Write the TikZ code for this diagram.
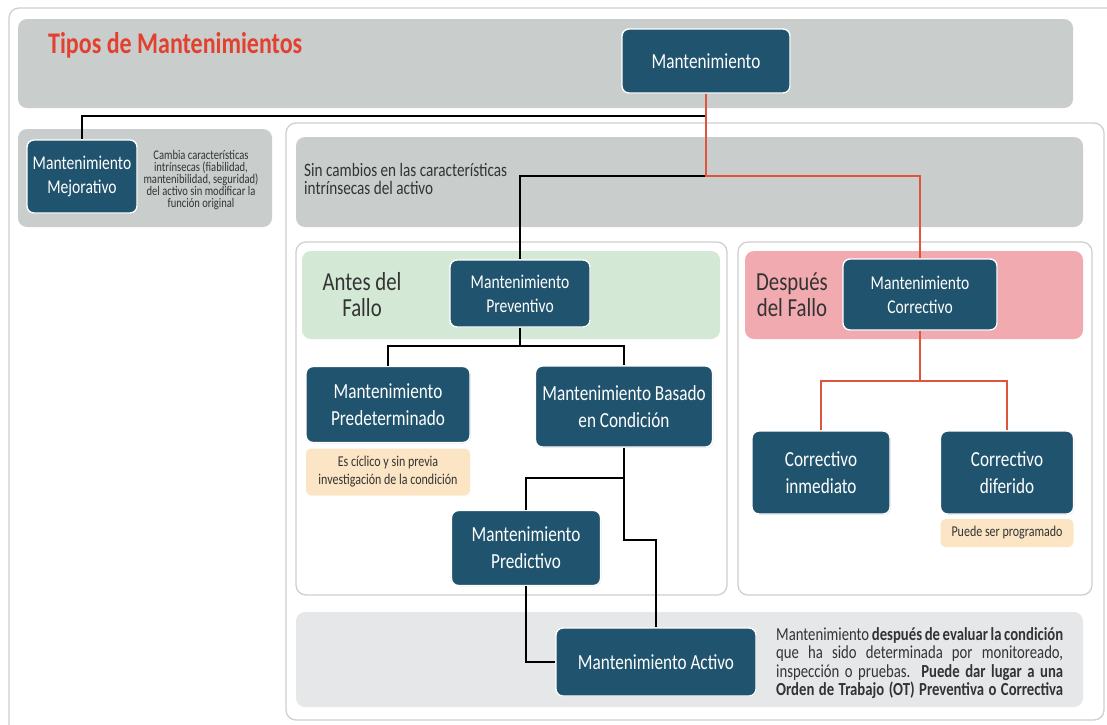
\documentclass[tikz,border=0pt]{standalone}
\usepackage{fontspec}
\setmainfont{Carlito}[FakeStretch=0.8]
\usetikzlibrary{shadows}
\definecolor{bandgray}{HTML}{C9CECD}
\definecolor{lightband}{HTML}{E6E7E8}
\definecolor{framegray}{HTML}{CFCFCF}
\definecolor{nodeblue}{HTML}{20536E}
\definecolor{linered}{HTML}{E0533D}
\definecolor{titlered}{HTML}{E2412F}
\definecolor{greenband}{HTML}{D3E9D5}
\definecolor{pinkband}{HTML}{F1AAB0}
\definecolor{notefill}{HTML}{FBE5C4}
\definecolor{textgray}{HTML}{333333}
\newcommand\boxfont{\fontsize{21.5}{27}\selectfont}
\newcommand\smallboxfont{\fontsize{19.5}{24}\selectfont}

\tikzset{
  band/.style={fill=#1, rounded corners=9pt},
  band/.default=bandgray,
  frame/.style={draw=framegray, line width=1.3pt, fill=white, rounded corners=10pt},
  mbox/.style={fill=nodeblue, draw=white, line width=1.4pt, rounded corners=7pt,
    text=white, align=center, inner sep=2pt, font=\boxfont,
    drop shadow={opacity=0.25, shadow xshift=0.8pt, shadow yshift=-0.8pt}},
  note/.style={fill=notefill, rounded corners=5pt, text=textgray, align=center,
    inner sep=2pt, font=\fontsize{15}{18}\selectfont},
  label/.style={text=textgray, inner sep=0},
  blk/.style={draw=black, line width=2pt},
  redl/.style={draw=linered, line width=1.6pt},
}

\begin{document}
\begin{tikzpicture}[x=1pt,y=-1pt]
\useasboundingbox (0,0) rectangle (1107,724);
\clip (0,0) rectangle (1107,724);
\fill[white] (0,0) rectangle (1107,724);

% frames and background bands
\draw[frame] (9,8) rectangle (1125,745);
\fill[band] (18,19) rectangle (1073,108);
\fill[band] (18,129) rectangle (272,227);
\draw[frame] (286,123) rectangle (1104,720);
\fill[band] (296,137) rectangle (1083,227);
\draw[frame] (296,242) rectangle (727,595);
\fill[band=greenband] (302,251) rectangle (720,339);
\draw[frame] (738,242) rectangle (1092,595);
\fill[band=pinkband] (745,251) rectangle (1083,339);
\fill[band=lightband] (296,612) rectangle (1083,707);

% headings and side texts
\node[anchor=base west, text=titlered, inner sep=0,
      font=\bfseries\fontsize{30}{32}\selectfont] (title) at (48,53) {Tipos de Mantenimientos};
\node[label, align=center, font=\fontsize{13.2}{11.8}\selectfont] (mejtxt) at (201,180)
  {Cambia características\\ intrínsecas (fiabilidad,\\ mantenibilidad, seguridad)\\ del activo sin modificar la\\ función original};
\node[label, anchor=north west, align=left, font=\fontsize{19}{18}\selectfont] (sintxt) at (304,163)
  {Sin cambios en las características\\ intrínsecas del activo};
\node[label, align=center, font=\fontsize{26}{26}\selectfont] (antes) at (362,295) {Antes del\\ Fallo};
\node[label, align=center, font=\fontsize{26}{26}\selectfont] (despues) at (792,295) {Después\\ del Fallo};

% boxes
\node[mbox, minimum width=168pt, minimum height=64pt] (mant) at (706,61) {Mantenimiento};
\node[mbox, minimum width=110pt, minimum height=73pt, font=\smallboxfont] (mej) at (82,176.5) {Mantenimiento\\ Mejorativo};
\node[mbox, minimum width=140pt, minimum height=67pt, font=\smallboxfont] (prev) at (520,293.5) {Mantenimiento\\ Preventivo};
\node[mbox, minimum width=154pt, minimum height=71pt, font=\smallboxfont] (corr) at (920,294.5) {Mantenimiento\\ Correctivo};
\node[mbox, minimum width=164pt, minimum height=76pt] (pred) at (388,404.5) {Mantenimiento\\ Predeterminado};
\node[mbox, minimum width=177pt, minimum height=81pt] (bas) at (624,406.5) {Mantenimiento Basado\\ en Condición};
\node[mbox, minimum width=149pt, minimum height=75pt] (pdic) at (526,548) {Mantenimiento\\ Predictivo};
\node[mbox, minimum width=138pt, minimum height=83pt] (cinm) at (821,472.5) {Correctivo\\ inmediato};
\node[mbox, minimum width=133pt, minimum height=83pt] (cdif) at (1007,472.5) {Correctivo\\ diferido};
\node[mbox, minimum width=200pt, minimum height=68pt] (act) at (656,662) {Mantenimiento Activo};

% notes
\node[note, minimum width=164pt, minimum height=47pt] (prednote) at (388,472)
  {Es cíclico y sin previa\\ investigación de la condición};
\node[note, minimum width=133pt, minimum height=28pt] (difnote) at (1007,533) {Puede ser programado};
\node[label, anchor=west, align=left, font=\fontsize{18.4}{18.3}\selectfont] (acttxt) at (776,663)
  {\makebox[287pt][s]{Mantenimiento \textbf{después de evaluar la condición}}\\
   \makebox[287pt][s]{que ha sido determinada por monitoreado,}\\
   \makebox[287pt][s]{inspección o pruebas. \textbf{Puede dar lugar a una}}\\
   \makebox[287pt][s]{\textbf{Orden de Trabajo (OT) Preventiva o Correctiva}}};

% connectors
\coordinate (j1) at (706,116);
\coordinate (j2) at (706,176);
\draw[blk] (j1) -| (mej.north);
\draw[blk] (j2) -| (prev.north);
\draw[redl] (mant.south) -- (j2) -| (corr.north);

\coordinate (j3) at (520,346);
\draw[blk] (prev.south) -- (j3);
\draw[blk] (j3) -| (pred.north);
\draw[blk] (j3) -| (bas.north);

\coordinate (j4) at (624,478);
\coordinate (j5) at (624,540);
\draw[blk] (bas.south) -- (j4) -| (pdic.north);
\draw[blk] (j4) -- (j5) -| (act.north);
\draw[blk] (pdic.south) |- (act.west);

\coordinate (j6) at (920,381);
\draw[redl] (corr.south) -- (j6);
\draw[redl] (j6) -| (cinm.north);
\draw[redl] (j6) -| (cdif.north);
\end{tikzpicture}
\end{document}
